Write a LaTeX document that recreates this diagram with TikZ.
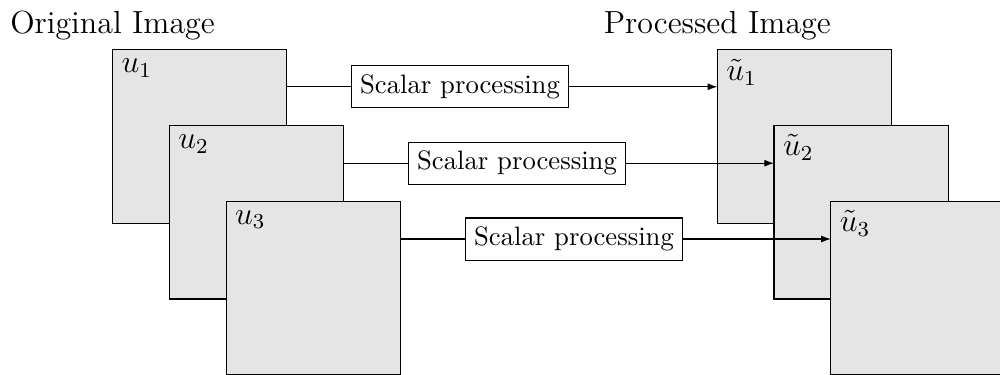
\documentclass[tikz,border=0pt]{standalone}
\usetikzlibrary{arrows.meta}
\begin{document}
\begin{tikzpicture}[x=0.375pt,y=-0.375pt,
  img/.style={draw=black,fill=gray!20,minimum width=65.4pt,minimum height=65pt,inner sep=0pt,outer sep=0pt},
  lbl/.style={anchor=north west,inner sep=3.2pt,font=\large},
  proc/.style={draw=black,fill=white,outer sep=0pt,inner sep=3.33pt,minimum height=15pt},
  ttl/.style={above,font=\large},
  conn/.style={draw=black,line width=0.4pt},
  arr/.style={conn,-{Latex[length=3.6pt,width=2.6pt]}}]
\useasboundingbox (0,0) rectangle (1000,374);
% left images
\node[img] (u1) at (199.75,136.5) {};
\node[lbl] (lu1) at (u1.north west) {$u_1$};
\node[img] (u2) at (256.5,212.3) {};
\node[lbl] (lu2) at (u2.north west) {$u_2$};
\node[img] (u3) at (313.25,288) {};
\node[lbl] (lu3) at (u3.north west) {$u_3$};
% right images
\node[img] (t1) at (804.5,136.6) {};
\node[lbl] (lt1) at (t1.north west) {$\tilde{u}_1$};
\node[img] (t2) at (861.2,212.3) {};
\node[lbl] (lt2) at (t2.north west) {$\tilde{u}_2$};
\node[img] (t3) at (918,288) {};
\node[lbl] (lt3) at (t3.north west) {$\tilde{u}_3$};
% titles
\node[ttl] (to) at (u1.north west) {Original Image};
\node[ttl] (tp) at (t1.north west) {Processed Image};
% processing boxes
\node[proc] (p1) at (460,86.8) {Scalar processing};
\node[proc] (p2) at (517,163.2) {Scalar processing};
\node[proc] (p3) at (574,239) {Scalar processing};
% connectors
\draw[conn] (p1.west -| u1.east) -- (p1.west);
\draw[arr] (p1.east) -- (p1.east -| t1.west);
\draw[conn] (p2.west -| u2.east) -- (p2.west);
\draw[arr] (p2.east) -- (p2.east -| t2.west);
\draw[conn] (p3.west -| u3.east) -- (p3.west);
\draw[arr] (p3.east) -- (p3.east -| t3.west);
\end{tikzpicture}
\end{document}
